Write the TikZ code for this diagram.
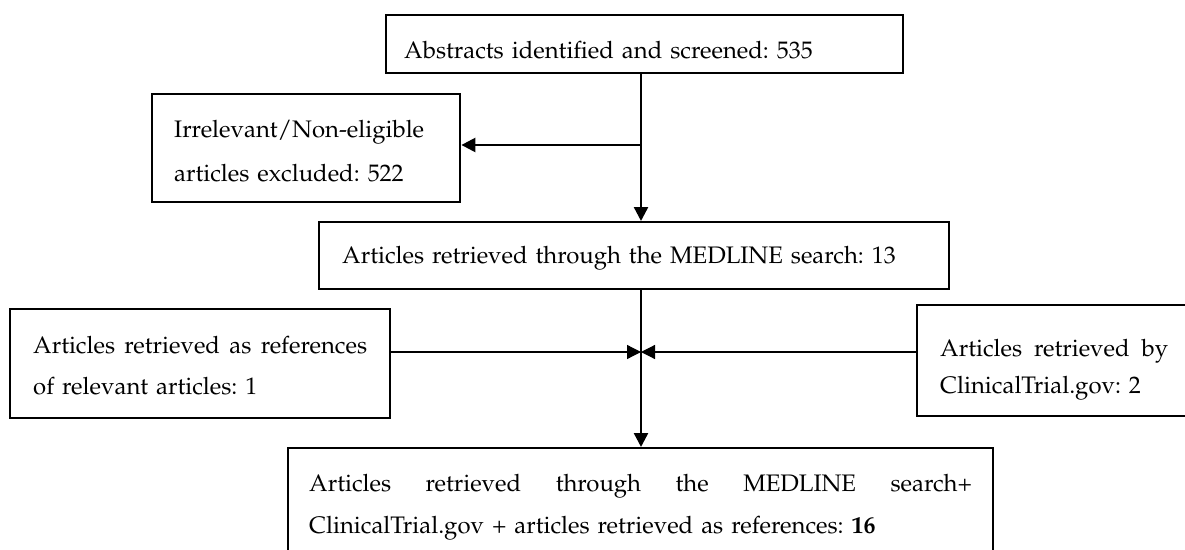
\documentclass[tikz,border=0pt]{standalone}
\usepackage[T1]{fontenc}
\usepackage{mathpazo}
\usetikzlibrary{arrows.meta}

\begin{document}
\begin{tikzpicture}[x=0.02cm,y=-0.02cm,
    flowbox/.style={draw,line width=1.4pt,anchor=north west,inner ysep=0pt,align=left,
      font=\fontsize{13.6}{25}\selectfont\frenchspacing},
    leading/.style={font=\fontsize{13.6}{#1}\selectfont\frenchspacing},
    trunk/.style={line width=1.4pt},
    feeder/.style={line width=0.7pt},
    tip/.style={-{Triangle[length=0.28cm,width=0.28cm]}}]
  \useasboundingbox (0,0) rectangle (1185,550);

  \node[flowbox,inner xsep=0.36cm,text width=9.62cm,text height=0.86cm,text depth=0.30cm]
    (abstr) at (385,14) {Abstracts identified and screened: 535};
  \node[flowbox,leading=25pt,inner xsep=0.44cm,text width=5.28cm,text height=0.86cm,text depth=1.30cm]
    (excl) at (151,93) {Irrelevant/Non-eligible\\articles excluded: 522};
  \node[flowbox,inner xsep=0.46cm,text width=11.68cm,text height=0.82cm,text depth=0.52cm]
    (medl) at (318,221) {Articles retrieved through the MEDLINE search: 13};
  \node[flowbox,leading=23.3pt,inner xsep=0.46cm,text width=6.68cm,text height=0.88cm,text depth=1.30cm]
    (refs) at (9,308) {Articles\hfill retrieved\hfill as\hfill references\\of relevant articles: 1};
  \node[flowbox,leading=21pt,inner xsep=0.46cm,text width=4.96cm,text height=1.02cm,text depth=1.20cm]
    (ctgov) at (916,304) {\hbox to 4.56cm{Articles\hfill retrieved\hfill by}\\ClinicalTrial.gov: 2};
  \node[flowbox,leading=23.9pt,inner xsep=0.42cm,text width=13.26cm,text height=0.86cm,text depth=1.80cm]
    (total) at (287,447) {Articles\hfill retrieved\hfill through\hfill the\hfill MEDLINE\hfill search+\\ClinicalTrial.gov + articles retrieved as references: \textbf{16}};

  \coordinate (split) at (641,145);
  \coordinate (join) at (641,352);

  \draw[trunk] (abstr.south -| split) -- (split);
  \draw[trunk,tip] (split) -- (split -| excl.east);
  \draw[trunk,tip] (split) -- (split |- medl.north);
  \draw[trunk] (medl.south -| join) -- (join);
  \draw[trunk,tip] (join) -- (join |- total.north);
  \draw[feeder,tip] (refs.east |- join) -- (join);
  \draw[feeder,tip] (ctgov.west |- join) -- (join);
\end{tikzpicture}
\end{document}
